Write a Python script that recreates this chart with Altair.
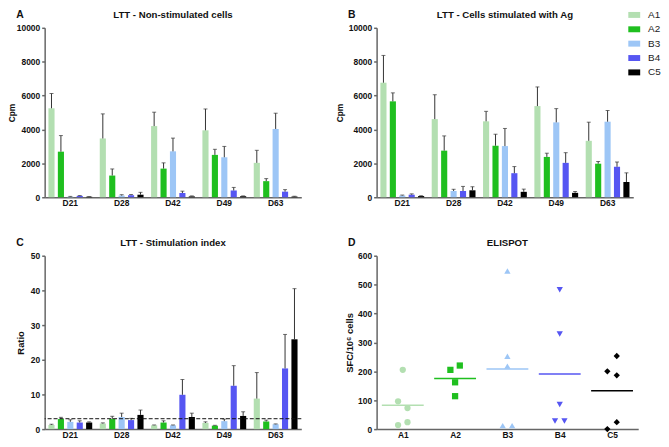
import altair as alt
import pandas as pd

days = ["D21", "D28", "D42", "D49", "D63"]
groups = ["A1", "A2", "B3", "B4", "C5"]
colors = ["#b3dfb1", "#1fbf1f", "#9dc6f6", "#5656f2", "#000000"]
shapes = ["circle", "square", "triangle-up", "triangle-down", "diamond"]

# Panel A: LTT non-stimulated (mean cpm and SD)
a_vals = {
    "A1": [5250, 3470, 4200, 3950, 2030],
    "A2": [2690, 1280, 1690, 2500, 950],
    "B3": [30, 100, 2710, 2360, 4030],
    "B4": [80, 120, 250, 400, 330],
    "C5": [30, 150, 50, 60, 40],
}
a_errs = {
    "A1": [870, 1450, 820, 1260, 740],
    "A2": [950, 390, 340, 330, 150],
    "B3": [20, 50, 780, 640, 930],
    "B4": [20, 40, 110, 180, 120],
    "C5": [10, 140, 30, 20, 20],
}

# Panel B: LTT stimulated with Ag
b_vals = {
    "A1": [6760, 4610, 4480, 5380, 3330],
    "A2": [5660, 2750, 3040, 2380, 1980],
    "B3": [100, 370, 3020, 4420, 4460],
    "B4": [150, 370, 1420, 2030, 1800],
    "C5": [70, 410, 320, 260, 900],
}
b_errs = {
    "A1": [1610, 1440, 590, 1130, 1100],
    "A2": [500, 870, 680, 220, 130],
    "B3": [30, 100, 1040, 810, 660],
    "B4": [50, 270, 390, 600, 280],
    "C5": [20, 210, 160, 80, 540],
}

# Panel C: stimulation index
c_vals = {
    "A1": [1.2, 1.6, 1.1, 1.8, 8.8],
    "A2": [2.9, 2.9, 1.9, 1.0, 2.2],
    "B3": [2.1, 3.5, 1.1, 2.3, 1.4],
    "B4": [1.9, 2.6, 9.9, 12.5, 17.5],
    "C5": [1.9, 4.1, 3.5, 3.8, 25.9],
}
c_errs = {
    "A1": [0.2, 0.2, 0.1, 0.3, 7.5],
    "A2": [0.5, 0.8, 0.5, 0.1, 0.4],
    "B3": [0.6, 1.1, 0.1, 0.6, 0.1],
    "B4": [0.5, 0.5, 4.4, 5.8, 9.8],
    "C5": [0.2, 1.4, 1.1, 1.2, 14.6],
}
si_threshold = [3]

# Panel D: ELISPOT individual values and horizontal jitter slot
d_vals = {
    "A1": [205, 96, 73, 24, 14],
    "A2": [220, 205, 162, 114],
    "B3": [547, 252, 218, 12, 12],
    "B4": [482, 329, 85, 28, 28],
    "C5": [253, 200, 186, 24, 0],
}
d_jitter = {
    "A1": [0, -1, 1, 1, -1],
    "A2": [1, -1, 0, 0],
    "B3": [0, 0, 0, -1, 1],
    "B4": [0, 0, 0, -1, 1],
    "C5": [1, -1, 1, 1, -1],
}

FONT = "Liberation Sans"
W1, W2 = 259, 264
H1, H2 = 171, 175


def label_layer(text, x, y, size):
    return alt.Chart(pd.DataFrame({"t": [text]})).mark_text(
        font=FONT, fontWeight="bold", fontSize=size, color="#111"
    ).encode(text="t:N", x=alt.value(x), y=alt.value(y))


def yaxis(title, values, tsize, tpad):
    return alt.Axis(title=title, values=values, format="d", labelOverlap=False,
                    labelFlush=False, titlePadding=tpad, titleFontSize=tsize, labelSeparation=0)


def bar_panel(vals, errs, ymax, ystep, ytitle, tsize, tpad, title, letter, width, height,
              legend, extra=None):
    rows = []
    for g in groups:
        for i, d in enumerate(days):
            rows.append({"day": d, "group": g, "value": vals[g][i], "top": vals[g][i] + errs[g][i]})
    df = pd.DataFrame(rows)
    base = alt.Chart(df)
    x = alt.X("day:N", sort=days, scale=alt.Scale(paddingInner=0, paddingOuter=0),
              axis=alt.Axis(title=None, labelAngle=0, ticks=False, labelPadding=1))
    xo = alt.XOffset("group:N", sort=groups, scale=alt.Scale(paddingInner=0.35, paddingOuter=0.4))
    ax = yaxis(ytitle, list(range(0, ymax + 1, ystep)), tsize, tpad)
    y = alt.Y("value:Q", scale=alt.Scale(domain=[0, ymax], nice=False), axis=ax)
    color = alt.Color("group:N", sort=groups, scale=alt.Scale(domain=groups, range=colors), legend=legend)
    bars = base.mark_bar().encode(x=x, xOffset=xo, y=y, color=color)
    rules = base.mark_rule(color="#333", strokeWidth=1).encode(
        x=x, xOffset=xo, y=alt.Y("value:Q", axis=ax), y2="top:Q")
    caps = base.mark_tick(color="#333", thickness=1, size=4, orient="horizontal").encode(
        x=x, xOffset=xo, y=alt.Y("top:Q", axis=ax))
    layers = [bars, rules, caps]
    if extra is not None:
        layers.append(extra(ax))
    layers.append(label_layer(title, width / 2, -12.5, 9.7))
    layers.append(label_layer(letter, -25, -13, 10.5))
    return alt.layer(*layers).properties(width=width, height=height)


legend = alt.Legend(
    title=None, orient="none", legendX=255, legendY=-18,
    symbolType="M-2,-1H2V1H-2Z", symbolSize=36, symbolStrokeWidth=0,
    labelFont=FONT, labelFontSize=10, labelFontWeight="normal", labelColor="#222",
    labelOffset=9, rowPadding=4.5, padding=0,
)

panel_a = bar_panel(a_vals, a_errs, 10000, 2000, "Cpm", 8.5, 0,
                    "LTT - Non-stimulated cells", "A", W1, H1, None)
panel_b = bar_panel(b_vals, b_errs, 10000, 2000, "Cpm", 8.5, 4,
                    "LTT - Cells stimulated with Ag", "B", W1, H1, legend)


def threshold(ax):
    return alt.Chart(pd.DataFrame({"y": si_threshold})).mark_rule(
        color="#111", strokeDash=[4, 2], strokeWidth=1).encode(y=alt.Y("y:Q", axis=ax))


panel_c = bar_panel(c_vals, c_errs, 50, 10, "Ratio", 9.5, 5,
                    "LTT - Stimulation index", "C", W1, H2, None, extra=threshold)

# Panel D
drows = []
for gi, g in enumerate(groups):
    for v, j in zip(d_vals[g], d_jitter[g]):
        drows.append({"group": g, "idx": gi, "value": v, "jit": j})
ddf = pd.DataFrame(drows)
dbase = alt.Chart(ddf)
dx = alt.X("pos:Q", scale=alt.Scale(domain=[-0.5, 4.5], nice=False, zero=False),
           axis=alt.Axis(title=None, values=[0, 1, 2, 3, 4], ticks=False, labelPadding=1,
                         labelExpr="['A1','A2','B3','B4','C5'][datum.value]"))
dax = yaxis("SFC/10⁶ cells", list(range(0, 601, 100)), 9.5, 3)
dy = alt.Y("value:Q", scale=alt.Scale(domain=[0, 600], nice=False), axis=dax)
dcolor = alt.Color("group:N", sort=groups, scale=alt.Scale(domain=groups, range=colors), legend=None)
points = dbase.transform_calculate(pos="datum.idx + datum.jit * 0.09").mark_point(
    filled=True, size=40, opacity=1).encode(
    x=dx, y=dy, color=dcolor,
    shape=alt.Shape("group:N", sort=groups, scale=alt.Scale(domain=groups, range=shapes), legend=None))
means = dbase.transform_aggregate(
    mean="mean(value)", groupby=["group", "idx"]).transform_calculate(
    pos="datum.idx - 0.4", pos2="datum.idx + 0.4").mark_rule(strokeWidth=1.5).encode(
    x="pos:Q", x2="pos2:Q", y=alt.Y("mean:Q", axis=dax), color=dcolor)
panel_d = alt.layer(points, means,
                    label_layer("ELISPOT", W2 / 2, -12.5, 9.7),
                    label_layer("D", -25, -13, 10.5)).properties(width=W2, height=H2)

chart = alt.concat(
    panel_a, panel_b, panel_c, panel_d, columns=2,
    spacing={"row": 59, "column": 76}, bounds="flush",
).resolve_scale(color="independent").resolve_legend(color="independent").properties(
    padding={"left": -1, "top": 0, "right": 0, "bottom": 0}
).configure_axis(
    domainColor="#666", domainWidth=1.5, tickColor="#666", tickWidth=1.5, tickSize=3,
    labelFont=FONT, labelFontWeight="bold", labelFontSize=8.5, labelColor="#111",
    titleFont=FONT, titleFontWeight="bold", titleColor="#111", grid=False,
    labelOverlap=False,
).configure_view(stroke=None)

chart.save("out.html", embed_options={"renderer": "svg", "actions": False})
